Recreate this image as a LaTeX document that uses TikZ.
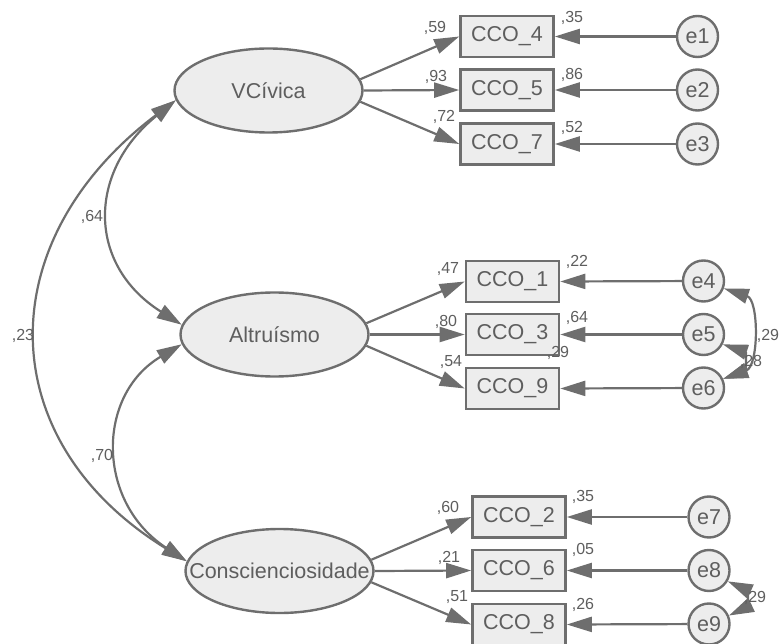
\documentclass[tikz,border=0pt]{standalone}
\usepackage{fontspec}
\setmainfont{Liberation Sans}
\usetikzlibrary{shapes.geometric,arrows.meta}
\definecolor{ln}{HTML}{6E6E6E}
\definecolor{fl}{HTML}{EDEDED}
\definecolor{tx}{HTML}{5E5E5E}
\begin{document}
\begin{tikzpicture}[x=1pt,y=-1pt,
  bigtxt/.style={text=tx,font=\fontsize{21.5}{25}\selectfont},
  lat/.style={ellipse,draw=ln,fill=fl,line width=2.4pt,minimum width=188pt,minimum height=84pt,inner sep=0pt},
  obs/.style={rectangle,draw=ln,fill=fl,line width=2.6pt,minimum width=93pt,minimum height=41pt,inner sep=0pt,bigtxt},
  err/.style={circle,draw=ln,fill=fl,line width=2.4pt,minimum size=41pt,inner sep=0pt,bigtxt},
  lbl/.style={text=tx,font=\fontsize{16}{18}\selectfont,inner sep=0pt},
  arr/.style={line width=2.2pt,draw=ln,-{Triangle[length=25pt,width=15pt]}},
  cov/.style={line width=2.2pt,draw=ln,{Triangle[length=25pt,width=15pt]}-{Triangle[length=25pt,width=15pt]}},
]
\useasboundingbox (0,0) rectangle (779,644);
% latent variables
\node[lat,label={[bigtxt]center:VCívica}] (vc) at (268.5,90.5) {};
\node[lat,label={[bigtxt]center:Altruísmo}] (alt) at (274.5,334.5) {};
\node[lat,label={[bigtxt]center:Conscienciosidade}] (cs) at (279.5,571) {};
% observed
\node[obs] (c4) at (507,36.5) {CCO\_4};
\node[obs] (c5) at (507,90) {CCO\_5};
\node[obs] (c7) at (507,144) {CCO\_7};
\node[obs] (c1) at (512.5,281.5) {CCO\_1};
\node[obs] (c3) at (512.5,334.5) {CCO\_3};
\node[obs] (c9) at (512.5,388.5) {CCO\_9};
\node[obs] (c2) at (519,517) {CCO\_2};
\node[obs] (c6) at (519,570.5) {CCO\_6};
\node[obs] (c8) at (519,624.5) {CCO\_8};
% errors
\node[err] (e1) at (697.5,36.5) {e1};
\node[err] (e2) at (697.5,90) {e2};
\node[err] (e3) at (697.5,144) {e3};
\node[err] (e4) at (703.5,281) {e4};
\node[err] (e5) at (703.5,334.5) {e5};
\node[err] (e6) at (703.5,388) {e6};
\node[err] (e7) at (709,517) {e7};
\node[err] (e8) at (709,570.5) {e8};
\node[err] (e9) at (709,624) {e9};
% loadings
\draw[arr] (vc.7) -- (c4.west);
\draw[arr] (vc.east) -- (c5.west);
\draw[arr] (vc.-7) -- (c7.west);
\draw[arr] (alt.7) -- (c1.west);
\draw[arr] (alt.east) -- (c3.west);
\draw[arr] (alt.-7) -- (c9.west);
\draw[arr] (cs.7) -- (c2.west);
\draw[arr] (cs.east) -- (c6.west);
\draw[arr] (cs.-7) -- (c8.west);
% errors to indicators
\draw[arr] (e1) -- (c4.east);
\draw[arr] (e2) -- (c5.east);
\draw[arr] (e3) -- (c7.east);
\draw[arr] (e4) -- (c1.east);
\draw[arr] (e5) -- (c3.east);
\draw[arr] (e6) -- (c9.east);
\draw[arr] (e7) -- (c2.east);
\draw[arr] (e8) -- (c6.east);
\draw[arr] (e9) -- (c8.east);
% covariances latent
\draw[cov] (vc.186) .. controls (87,172) and (87,265) .. (alt.174);
\draw[cov] (vc.186) .. controls (-10,240) and (-10,440) .. (cs.174);
\draw[cov] (alt.186) .. controls (96,395) and (96,502) .. (cs.174);
% covariances errors
\draw[cov] (e4.-20) .. controls (759,300) and (759,366) .. (e6.25);
\draw[cov] (e5.-27) .. controls (746,352) and (746,371) .. (e6.25);
\draw[cov] (e8.-30) .. controls (747,590) and (747,607) .. (e9.23);
% labels: loadings
\node[lbl] at (435,28) {,59};
\node[lbl] at (436,77) {,93};
\node[lbl] at (444,117) {,72};
\node[lbl] at (448,269) {,47};
\node[lbl] at (446,322) {,80};
\node[lbl] at (451,362) {,54};
\node[lbl] at (448,508) {,60};
\node[lbl] at (449,558) {,21};
\node[lbl] at (457,597) {,51};
% labels: R2
\node[lbl] at (572,18) {,35};
\node[lbl] at (572,75) {,86};
\node[lbl] at (572,128) {,52};
\node[lbl] at (577,262) {,22};
\node[lbl] at (577,318) {,64};
\node[lbl] at (558,353) {,29};
\node[lbl] at (583,497) {,35};
\node[lbl] at (583,550) {,05};
\node[lbl] at (583,605) {,26};
% labels: covariances
\node[lbl] at (92,217) {,64};
\node[lbl] at (23,336) {,23};
\node[lbl] at (102,456) {,70};
\node[lbl] at (768,336) {,29};
\node[lbl] at (751,362) {,28};
\node[lbl] at (755,598) {,29};
\end{tikzpicture}
\end{document}
